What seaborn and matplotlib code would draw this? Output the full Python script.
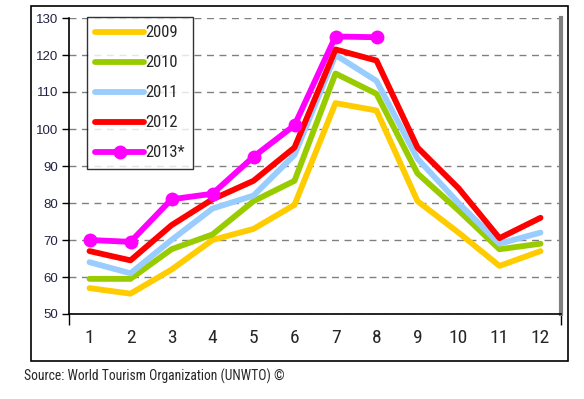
import seaborn as sns
import matplotlib.pyplot as plt
import pandas as pd
from matplotlib.patches import Rectangle

# monthly values
months = list(range(1, 13))
y2009 = [57, 55.5, 62, 70, 73, 79.5, 107, 105, 80.5, 72, 63, 67]
y2010 = [59.5, 59.5, 67.5, 71.5, 80.5, 86, 115, 109.5, 88, 78, 67.5, 69]
y2011 = [64, 61, 70, 78.5, 82, 93, 120, 113, 92, 80, 69, 72]
y2012 = [67, 64.5, 74, 81, 86, 95, 121.5, 118.5, 95, 84, 70.5, 76]
y2013 = [70, 69.5, 81, 82.5, 92.5, 101, 125, 124.8]

labels = ["2009", "2010", "2011", "2012", "2013*"]
colors = ["#FFCC00", "#99CC00", "#99CCFF", "#FF0000", "#FF00FF"]
series = [y2009, y2010, y2011, y2012, y2013]

sns.set_style("white")
# narrow font, first one found is used
plt.rcParams['font.family'] = ['Roboto Condensed', 'Liberation Sans Narrow', 'Archivo Narrow',
                               'PT Sans Narrow', 'Liberation Sans', 'DejaVu Sans']

fig = plt.figure(figsize=(5.84, 3.99), dpi=100)
ax = fig.add_axes([69/584, 85/399, 492/584, 296/399])

for lab, col, vals in zip(labels, colors, series):
    df = pd.DataFrame({"month": months[:len(vals)], "value": vals})
    if lab == "2013*":
        sns.lineplot(data=df, x="month", y="value", ax=ax, color=col, lw=4.2,
                     marker="o", markersize=10, markeredgewidth=0, label=lab)
    else:
        sns.lineplot(data=df, x="month", y="value", ax=ax, color=col, lw=4.2, label=lab)

ax.set_xlim(0.5, 12.5)
ax.set_ylim(50, 130)
ax.set_xticks(months)
ax.set_xticks([0.5, 12.5], minor=True)
yt = list(range(50, 131, 10))
ax.set_yticks(yt)
ax.set_yticklabels([str(v) for v in yt], fontfamily=['Liberation Sans', 'DejaVu Sans'],
                   fontsize=9.5, color="#222244")
ax.set_xlabel("")
ax.set_ylabel("")
ax.yaxis.grid(True, color="#808080", linestyle=(0, (5, 4)), lw=1)
ax.set_axisbelow(True)
ax.tick_params(axis="y", length=5, width=1, color="black", pad=3, left=True)
ax.tick_params(axis="x", which="major", length=0, labelsize=14, pad=11)
ax.tick_params(axis="x", which="minor", length=8, width=1, color="black", bottom=True)

for s in ["left", "bottom"]:
    ax.spines[s].set_color("black")
    ax.spines[s].set_linewidth(1.2)
ax.spines["top"].set_visible(False)
ax.spines["right"].set_color("#808080")
ax.spines["right"].set_linewidth(3)

leg = ax.legend(loc="upper left", bbox_to_anchor=(18/492, 1.003), frameon=True, fancybox=False,
                edgecolor="black", fontsize=12, handlelength=2.9, handletextpad=0.1,
                labelspacing=0.9, borderpad=0.5, borderaxespad=0, numpoints=1)
leg.get_frame().set_linewidth(1)

# outer frame
fig.patches.append(Rectangle((31/584, 38/399), 537/584, 355/399, transform=fig.transFigure,
                             fill=False, edgecolor="black", lw=1.2))

fig.text(24/584, 1 - 376/399, "Source: World Tourism Organization (UNWTO) \u00a9",
         fontsize=9.8, va="center", ha="left")

fig.savefig("out.png", dpi=100)
